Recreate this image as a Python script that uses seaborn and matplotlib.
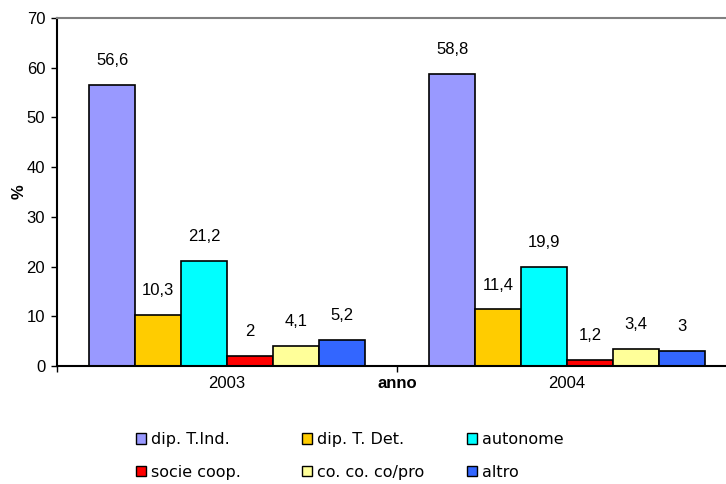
import matplotlib
matplotlib.use("Agg")
import matplotlib.pyplot as plt
from matplotlib.patches import Patch
from matplotlib.ticker import FixedLocator, NullFormatter
import pandas as pd
import seaborn as sns

# Occupati per tipologia contrattuale (%), anni 2003-2004
anni = ["2003", "2004"]
categorie = ["dip. T.Ind.", "dip. T. Det.", "autonome", "socie coop.", "co. co. co/pro", "altro"]
valori_2003 = [56.6, 10.3, 21.2, 2, 4.1, 5.2]
valori_2004 = [58.8, 11.4, 19.9, 1.2, 3.4, 3]
colori = ["#9999FF", "#FFCC00", "#00FFFF", "#FF0000", "#FFFF99", "#3366FF"]
y_ticks = [0, 10, 20, 30, 40, 50, 60, 70]

df = pd.DataFrame({
    "anno": [a for a in anni for _ in categorie],
    "categoria": categorie * len(anni),
    "valore": valori_2003 + valori_2004,
})

sns.set_style("white")
plt.rcParams["font.family"] = ["Liberation Sans", "DejaVu Sans"]

W, H = 726, 484
fig = plt.figure(figsize=(W / 100, H / 100), dpi=100)
left_px, right_px, top_px, bottom_px = 57, 737, 18, 366
ax = fig.add_axes([left_px / W, 1 - bottom_px / H,
                   (right_px - left_px) / W, (bottom_px - top_px) / H])

sns.barplot(data=df, x="anno", y="valore", hue="categoria", order=anni,
            hue_order=categorie, palette=colori, saturation=1, width=0.81,
            edgecolor="black", linewidth=1.2, legend=False, ax=ax)

ax.set_xlim(-0.5, 1.5)
ax.set_ylim(0, 70)
ax.set_yticks(y_ticks)

# value labels with comma as decimal separator
for cont in ax.containers:
    labels = [f"{b.get_height():g}".replace(".", ",") for b in cont]
    ax.bar_label(cont, labels=labels, padding=12, fontsize=12, color="black")

# spines
for s in ["left", "bottom"]:
    ax.spines[s].set_color("black")
    ax.spines[s].set_linewidth(1.5)
ax.spines["top"].set_color("#808080")
ax.spines["top"].set_linewidth(1.5)
ax.spines["right"].set_visible(False)

# ticks
ax.tick_params(axis="y", which="major", direction="out", length=4.5, width=1,
               color="black", pad=4, labelsize=12, labelcolor="black", left=True)
ax.tick_params(axis="x", which="major", length=0, pad=7, labelsize=12,
               labelcolor="black")
ax.xaxis.set_minor_locator(FixedLocator([-0.5, 0.5, 1.5]))
ax.xaxis.set_minor_formatter(NullFormatter())
ax.tick_params(axis="x", which="minor", direction="out", length=4.5, width=1,
               color="black", bottom=True)

ax.set_xlabel("")
ax.set_ylabel("%", fontsize=12, fontweight="bold", labelpad=0, color="black")
ax.annotate("anno", xy=(0.5, 0), xycoords=("data", "axes fraction"),
            xytext=(0, -7), textcoords="offset points", ha="center", va="top",
            fontsize=12, fontweight="bold", color="black")

# legend: three columns, two rows
handles = [Patch(facecolor=c, edgecolor="black", linewidth=1) for c in colori]
col_x = [136, 302, 467]
for i, x in enumerate(col_x):
    idx = [i, i + 3]
    fig.legend([handles[j] for j in idx], [categorie[j] for j in idx],
               loc="upper left", bbox_to_anchor=(x / W, 1 - 432 / H),
               frameon=False, borderpad=0, borderaxespad=0,
               handlelength=0.62, handleheight=0.62, handletextpad=0.3,
               labelspacing=1.1, labelcolor="black",
               prop={"family": "DejaVu Sans", "size": 11.5})

fig.savefig("out.png", dpi=100, facecolor="white")
